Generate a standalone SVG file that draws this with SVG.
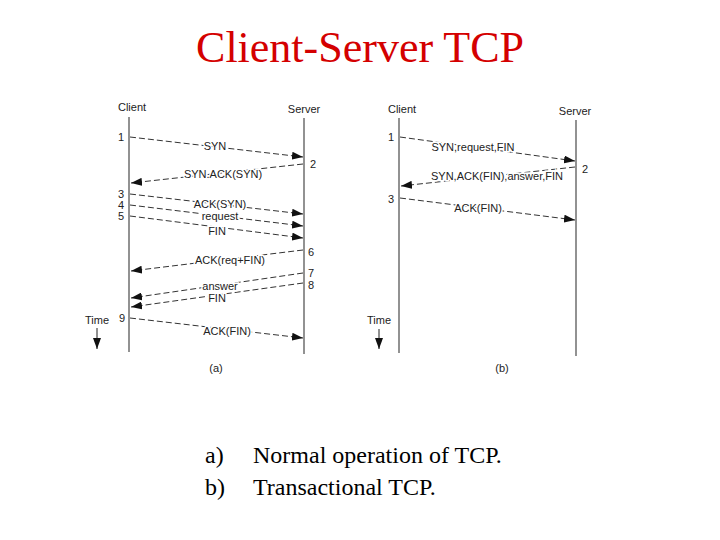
<svg xmlns="http://www.w3.org/2000/svg" width="720" height="540" viewBox="0 0 720 540">
<defs>
<marker id="ah" markerUnits="userSpaceOnUse" markerWidth="12" markerHeight="8" refX="11" refY="4" orient="auto">
<path d="M0,0 L11,4 L0,8 z" fill="#111"/>
</marker>
<style>
.title{font-family:"Liberation Serif","Times New Roman",serif;font-size:44px;fill:#d40000;text-anchor:middle}
.cap{font-family:"Liberation Serif","Times New Roman",serif;font-size:24px;fill:#000}
.lbl{font-family:"Liberation Sans",Arial,sans-serif;font-size:11px;fill:#222;text-anchor:middle;stroke:#fff;stroke-width:3;paint-order:stroke}
.num{font-family:"Liberation Sans",Arial,sans-serif;font-size:11px;fill:#222;text-anchor:middle}
.hdr{font-family:"Liberation Sans",Arial,sans-serif;font-size:11px;fill:#222;text-anchor:middle}
.life{stroke:#777;stroke-width:1.6;fill:none}
.msg{stroke:#333;stroke-width:1;stroke-dasharray:6,3;fill:none;marker-end:url(#ah)}
.time{stroke:#222;stroke-width:1;fill:none;marker-end:url(#ah)}
</style>
</defs>
<rect width="720" height="540" fill="#fff"/>
<text class="title" x="360" y="62">Client-Server TCP</text>

<g id="diagram-a">
<g id="a-client"><text class="hdr" x="132" y="111">Client</text><line class="life" x1="129" y1="117" x2="129" y2="352"/></g>
<g id="a-server"><text class="hdr" x="304" y="113">Server</text><line class="life" x1="304" y1="118" x2="304" y2="354"/></g>
<g id="a-time"><text class="hdr" x="97" y="324">Time</text></g>
<g id="a-numbers">
<text class="num" x="121" y="141">1</text>
<text class="num" x="313" y="168">2</text>
<text class="num" x="121" y="198">3</text>
<text class="num" x="121" y="209">4</text>
<text class="num" x="121" y="220">5</text>
<text class="num" x="311" y="256">6</text>
<text class="num" x="311" y="277">7</text>
<text class="num" x="311" y="289">8</text>
<text class="num" x="122" y="322">9</text>
</g>
<text class="num" x="216" y="372">(a)</text>
</g>

<g id="diagram-b">
<g id="b-client"><text class="hdr" x="402" y="113">Client</text><line class="life" x1="399" y1="118" x2="399" y2="353"/></g>
<g id="b-server"><text class="hdr" x="575" y="115">Server</text><line class="life" x1="576" y1="120" x2="576" y2="356"/></g>
<g id="b-time"><text class="hdr" x="379" y="324">Time</text></g>
<g id="b-numbers">
<text class="num" x="391" y="141">1</text>
<text class="num" x="585" y="173">2</text>
<text class="num" x="391" y="203">3</text>
</g>
<text class="num" x="502" y="372">(b)</text>
</g>

<g id="connectors">
<line class="time" x1="97" y1="328" x2="97" y2="349"/>
<line class="time" x1="379" y1="329" x2="379" y2="349"/>
<line class="msg" x1="130" y1="137" x2="303" y2="157"/>
<line class="msg" x1="303" y1="164" x2="131" y2="183"/>
<line class="msg" x1="130" y1="194" x2="303" y2="214"/>
<line class="msg" x1="130" y1="205" x2="303" y2="226"/>
<line class="msg" x1="130" y1="216" x2="303" y2="238"/>
<line class="msg" x1="303" y1="250" x2="131" y2="271"/>
<line class="msg" x1="303" y1="273" x2="131" y2="298"/>
<line class="msg" x1="303" y1="283" x2="131" y2="307"/>
<line class="msg" x1="130" y1="318" x2="303" y2="338"/>
<line class="msg" x1="400" y1="137" x2="575" y2="161"/>
<line class="msg" x1="575" y1="167" x2="401" y2="186"/>
<line class="msg" x1="400" y1="198" x2="575" y2="220"/>
</g>

<g id="labels">
<text class="lbl" x="215" y="150">SYN</text>
<text class="lbl" x="223" y="178">SYN.ACK(SYN)</text>
<text class="lbl" x="220" y="208">ACK(SYN)</text>
<text class="lbl" x="220" y="220">request</text>
<text class="lbl" x="217" y="235">FIN</text>
<text class="lbl" x="230" y="264">ACK(req+FIN)</text>
<text class="lbl" x="220" y="290">answer</text>
<text class="lbl" x="217" y="302">FIN</text>
<text class="lbl" x="227" y="335">ACK(FIN)</text>
<text class="lbl" x="473" y="151">SYN,request,FIN</text>
<text class="lbl" x="497" y="180">SYN,ACK(FIN),answer,FIN</text>
<text class="lbl" x="478" y="212">ACK(FIN)</text>
</g>

<g id="caption">
<text class="cap" x="205" y="463">a)</text>
<text class="cap" x="253" y="463">Normal operation of TCP.</text>
<text class="cap" x="205" y="495">b)</text>
<text class="cap" x="253" y="495">Transactional TCP.</text>
</g>
</svg>
